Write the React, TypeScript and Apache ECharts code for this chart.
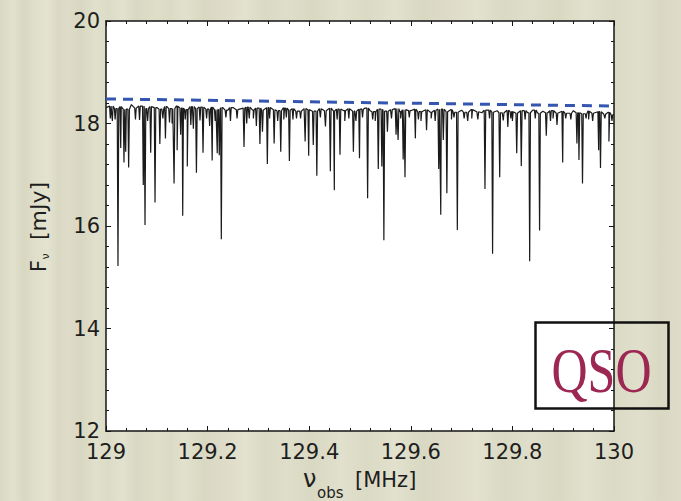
import React, { useEffect, useRef } from "react";
import * as echarts from "echarts";

// Axis ranges and tick steps
const xRange = [129, 130];
const xStep = 0.2;
const yRange = [12, 20];
const yStep = 2;

// Continuum flux [mJy], one sample every 0.01 MHz from 129.00 MHz
const FREQ_START = 129;
const FREQ_STEP = 0.01;
const continuum = [
  18.31, 18.34, 18.29, 18.33, 18.28, 18.37, 18.30, 18.34, 18.29, 18.33,
  18.31, 18.28, 18.33, 18.29, 18.34, 18.30, 18.27, 18.33, 18.29, 18.32,
  18.28, 18.32, 18.27, 18.31, 18.26, 18.31, 18.27, 18.30, 18.32, 18.26,
  18.30, 18.26, 18.31, 18.27, 18.25, 18.30, 18.26, 18.29, 18.24, 18.29,
  18.27, 18.24, 18.29, 18.25, 18.30, 18.24, 18.28, 18.25, 18.29, 18.24,
  18.28, 18.30, 18.25, 18.23, 18.28, 18.24, 18.27, 18.29, 18.23, 18.27,
  18.25, 18.28, 18.23, 18.27, 18.22, 18.26, 18.28, 18.23, 18.27, 18.22,
  18.26, 18.22, 18.27, 18.23, 18.21, 18.26, 18.22, 18.25, 18.21, 18.26,
  18.23, 18.20, 18.25, 18.21, 18.26, 18.20, 18.24, 18.21, 18.25, 18.20,
  18.24, 18.20, 18.25, 18.21, 18.19, 18.24, 18.20, 18.23, 18.18, 18.22,
  18.17,
];

// Absorption lines: [frequency MHz, minimum flux mJy]
const absorptionLines: [number, number][] = [
  [129.0085, 18.1], [129.0125, 18.05], [129.018, 18.08], [129.0236, 15.22],
  [129.029, 17.52], [129.0354, 17.24], [129.0388, 17.45], [129.0446, 17.14],
  [129.058, 18.08], [129.066, 18.07], [129.0734, 16.8], [129.0768, 16.02],
  [129.082, 18.05], [129.088, 17.43], [129.0965, 16.46], [129.106, 17.6],
  [129.112, 18.1], [129.117, 17.71], [129.125, 18.02], [129.13, 18.0],
  [129.134, 16.83], [129.14, 17.48], [129.147, 17.78], [129.151, 16.2],
  [129.156, 18.08], [129.16, 17.16], [129.167, 17.97], [129.172, 17.9],
  [129.178, 17.04], [129.185, 18.06], [129.191, 17.43], [129.198, 18.1],
  [129.204, 17.95], [129.209, 17.28], [129.215, 18.05], [129.219, 17.42],
  [129.223, 17.38], [129.227, 15.74], [129.236, 18.12], [129.245, 18.05],
  [129.258, 18.1], [129.2717, 17.54], [129.277, 18.0], [129.282, 18.1],
  [129.29, 18.1], [129.296, 17.95], [129.303, 17.6], [129.308, 17.84],
  [129.3176, 17.21], [129.322, 18.1], [129.331, 17.61], [129.338, 18.05],
  [129.344, 17.45], [129.35, 18.08], [129.355, 18.12], [129.361, 17.27],
  [129.368, 18.08], [129.375, 18.1], [129.383, 18.1], [129.392, 17.65],
  [129.399, 17.37], [129.408, 17.58], [129.415, 16.98], [129.422, 18.12],
  [129.432, 17.94], [129.4416, 17.07], [129.4495, 16.7], [129.455, 18.08],
  [129.4606, 17.39], [129.47, 18.05], [129.478, 18.1], [129.487, 17.45],
  [129.492, 18.05], [129.499, 17.32], [129.505, 18.12], [129.515, 16.54],
  [129.525, 18.08], [129.53, 18.05], [129.536, 17.11], [129.543, 17.16],
  [129.547, 15.72], [129.554, 17.84], [129.562, 18.1], [129.571, 17.78],
  [129.575, 17.68], [129.58, 18.1], [129.585, 17.3], [129.5886, 16.95],
  [129.597, 18.12], [129.609, 17.71], [129.615, 18.08], [129.62, 18.05],
  [129.631, 17.87], [129.64, 18.1], [129.648, 18.05], [129.655, 17.11],
  [129.659, 16.22], [129.664, 17.68], [129.671, 16.64], [129.68, 18.08],
  [129.685, 18.12], [129.6916, 15.92], [129.705, 18.1], [129.712, 18.05],
  [129.72, 18.1], [129.732, 18.08], [129.746, 16.72], [129.755, 18.1],
  [129.761, 15.46], [129.775, 16.95], [129.782, 18.06], [129.791, 17.93],
  [129.797, 18.1], [129.8, 18.05], [129.8085, 17.42], [129.8175, 17.17],
  [129.825, 18.08], [129.834, 15.31], [129.845, 18.1], [129.8535, 15.91],
  [129.8667, 17.76], [129.875, 18.05], [129.88, 18.1], [129.8878, 17.97],
  [129.899, 17.24], [129.905, 18.1], [129.915, 18.08], [129.927, 17.61],
  [129.931, 17.29], [129.938, 16.83], [129.945, 18.1], [129.95, 18.08],
  [129.958, 18.05], [129.9698, 17.48], [129.9734, 17.13], [129.982, 18.1],
  [129.99, 17.65], [129.996, 18.05],
];

// Fitted continuum level (dashed)
const fittedContinuum: [number, number][] = [
  [129, 18.48],
  [130, 18.34],
];

// Each absorption line is drawn as a narrow V dropping from the local continuum
const LINE_HALF_WIDTH = 0.0015;

function buildSpectrum(): [number, number][] {
  const pts: [number, number][] = continuum.map((v, i) => [
    +(FREQ_START + i * FREQ_STEP).toFixed(4),
    v,
  ]);
  for (const [f, depth] of absorptionLines) {
    const base = continuum[Math.round((f - FREQ_START) / FREQ_STEP)];
    pts.push([f - LINE_HALF_WIDTH, base], [f, depth], [f + LINE_HALF_WIDTH, base]);
  }
  pts.sort((a, b) => a[0] - b[0]);
  return pts;
}

// Paper-like backdrop with fine vertical streaks
const backdropStreaks: [number, string][] = [
  [0, "#dad9c4"], [0.02, "#e2e1ce"], [0.035, "#d8d7c2"], [0.05, "#dfdeca"],
  [0.07, "#e4e3d0"], [0.085, "#dad9c4"], [0.1, "#dedcc8"], [0.12, "#d8d7c1"],
  [0.14, "#e1e0cc"], [0.16, "#dcdbc6"], [0.18, "#e3e2cf"], [0.2, "#d9d8c3"],
  [0.23, "#dfdec9"], [0.25, "#dbdac5"], [0.27, "#e2e1cd"], [0.3, "#d9d8c2"],
  [0.33, "#dedcc8"], [0.36, "#e3e2cf"], [0.39, "#dad9c4"], [0.42, "#dfdeca"],
  [0.46, "#d9d8c2"], [0.5, "#e1e0cc"], [0.54, "#dbdac5"], [0.58, "#e2e1cd"],
  [0.62, "#d9d8c3"], [0.66, "#dedcc8"], [0.7, "#e3e2cf"], [0.74, "#dad9c4"],
  [0.78, "#dfdeca"], [0.82, "#d9d8c2"], [0.86, "#e2e1cd"], [0.9, "#dbdac5"],
  [0.94, "#e0dfcb"], [0.97, "#d9d8c3"], [1, "#dedcc8"],
];

const INK = "#151515";
const FONT = "DejaVu Sans";

function axisCommon(showLabel: boolean) {
  return {
    axisLine: { show: true, onZero: false, lineStyle: { color: INK, width: 1.5 } },
    axisTick: { show: true, inside: true, length: 5, lineStyle: { color: INK, width: 1 } },
    minorTick: { show: true, splitNumber: 5, length: 3, lineStyle: { color: INK, width: 1 } },
    splitLine: { show: false },
    minorSplitLine: { show: false },
    axisLabel: {
      show: showLabel,
      color: "#1e1e1e",
      fontFamily: FONT,
      fontSize: 21,
    },
  };
}

export default function App() {
  const ref = useRef<HTMLDivElement>(null);

  useEffect(() => {
    if (!ref.current) return;
    const chart = echarts.init(ref.current, null, { renderer: "svg" });

    const fmtX = (v: number) => String(Math.round(v * 10) / 10);
    const titleStyle = { fontFamily: FONT, fill: "#1e1e1e", align: "left", verticalAlign: "middle" };

    chart.setOption({
      animation: false,
      backgroundColor: new echarts.graphic.LinearGradient(
        0, 0, 1, 0,
        backdropStreaks.map(([offset, color]) => ({ offset, color }))
      ),
      textStyle: { fontFamily: FONT },
      grid: {
        left: 106,
        top: 21,
        width: 508,
        height: 410,
        show: true,
        backgroundColor: "#ffffff",
        borderWidth: 0,
      },
      xAxis: [
        {
          type: "value",
          position: "bottom",
          min: xRange[0],
          max: xRange[1],
          interval: xStep,
          ...axisCommon(true),
          axisLabel: { ...axisCommon(true).axisLabel, margin: 10, formatter: fmtX },
        },
        {
          type: "value",
          position: "top",
          min: xRange[0],
          max: xRange[1],
          interval: xStep,
          ...axisCommon(false),
        },
      ],
      yAxis: [
        {
          type: "value",
          position: "left",
          min: yRange[0],
          max: yRange[1],
          interval: yStep,
          ...axisCommon(true),
          axisLabel: { ...axisCommon(true).axisLabel, margin: 6 },
        },
        {
          type: "value",
          position: "right",
          min: yRange[0],
          max: yRange[1],
          interval: yStep,
          ...axisCommon(false),
        },
      ],
      series: [
        {
          type: "line",
          data: buildSpectrum(),
          showSymbol: false,
          symbol: "none",
          clip: true,
          lineStyle: { color: "#1b1b1b", width: 1.2 },
          z: 2,
        },
        {
          type: "line",
          data: fittedContinuum,
          showSymbol: false,
          symbol: "none",
          lineStyle: { color: "#3556b0", width: 3, type: [10, 7] },
          z: 3,
        },
      ],
      graphic: [
        // x-axis title: ν_obs [MHz]
        { type: "text", x: 303, y: 478.5, style: { ...titleStyle, text: "ν", fontSize: 24 } },
        { type: "text", x: 317, y: 492.5, style: { ...titleStyle, text: "obs", fontSize: 15 } },
        { type: "text", x: 355, y: 480, style: { ...titleStyle, text: "[MHz]", fontSize: 21 } },
        // y-axis title: F_ν [mJy], reading bottom to top
        {
          type: "group",
          x: 46.5,
          y: 272,
          rotation: Math.PI / 2,
          children: [
            { type: "text", x: 0, y: -7.3, style: { ...titleStyle, text: "F", fontSize: 21 } },
            { type: "text", x: 12.5, y: -0.8, style: { ...titleStyle, text: "ν", fontSize: 11 } },
            { type: "text", x: 32, y: -7.6, style: { ...titleStyle, text: "[mJy]", fontSize: 22 } },
          ],
        },
        // Source label box
        {
          type: "rect",
          shape: { x: 535.5, y: 322.5, width: 133, height: 86 },
          style: { fill: "none", stroke: "#111111", lineWidth: 2.5 },
          z: 10,
        },
        {
          type: "text",
          x: 601.5,
          y: 371,
          scaleY: 1.25,
          style: {
            text: "QSO",
            fontFamily: "Liberation Serif",
            fontSize: 50,
            fill: "#9c2752",
            align: "center",
            verticalAlign: "middle",
          },
          z: 10,
        },
      ],
    });

    return () => chart.dispose();
  }, []);

  return (
    <div
      ref={ref}
      style={{ position: "fixed", left: 0, top: 0, width: 681, height: 501 }}
    />
  );
}
